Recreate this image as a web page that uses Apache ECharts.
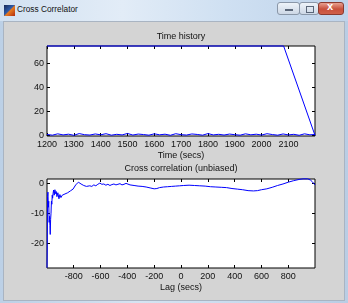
<!DOCTYPE html>
<html><head><meta charset="utf-8">
<script src="https://cdn.jsdelivr.net/npm/echarts@6/dist/echarts.min.js"></script>
<style>
html,body{margin:0;padding:0;width:348px;height:303px;overflow:hidden;background:#c8d8ea;}
#frame{position:absolute;left:0;top:0;width:348px;height:303px;background:linear-gradient(90deg,#bcd0e6,#d6e4f2 40%,#c9dbee 70%,#b9cde4);}
#titlebar{position:absolute;left:0;top:0;width:348px;height:21px;background:linear-gradient(90deg,#d2e1f1,#e2ecf7 35%,#cfe0f2 65%,#bfd3ea);}
#icon{position:absolute;left:4px;top:5px;width:11px;height:11px;background:linear-gradient(135deg,#1b2a55 0%,#2d5aa8 45%,#e87a1e 55%,#b02a10 100%);}
#ttext{position:absolute;left:17px;top:4px;font:8.3px "Liberation Sans",Arial,sans-serif;color:#111;white-space:nowrap;}
.btn{position:absolute;top:2px;height:13px;border:1px solid #8a97a8;border-radius:3px;background:linear-gradient(180deg,#eef3f9,#cdd8e6);box-sizing:border-box;}
#bmin{left:277px;width:23px;}
#bmax{left:299px;width:20px;}
#bclose{left:318px;width:26px;background:linear-gradient(180deg,#e8a090,#c8503c 55%,#d0604a);border-color:#8a3a30;}
#bmin:after{content:"";position:absolute;left:7px;top:6px;width:8px;height:2px;background:#5a6678;}
#bmax:after{content:"";position:absolute;left:6px;top:3px;width:6px;height:5px;border:1px solid #5a6678;}
#bclose:after{content:"x";position:absolute;left:8px;top:-3px;font:bold 11px "Liberation Sans",Arial;color:#fff;}
#client{position:absolute;left:3px;top:21px;width:342px;height:280px;background:#d4d4d4;border:1px solid #a9b4c2;box-sizing:border-box;}
#chart{position:absolute;left:0;top:0;width:348px;height:303px;}
</style></head>
<body>
<div id="frame"></div>
<div id="titlebar"><div id="icon"></div><div id="ttext">Cross Correlator</div>
<div class="btn" id="bmin"></div><div class="btn" id="bmax"></div><div class="btn" id="bclose"></div></div>
<div id="client"></div>
<div id="chart"></div>
<script>
// ---- Time history data ----
const timeStamps = [1200, 2082, 2199];
const timeStampValues = [74.4, 74.4, 0];
const noiseTimes = [1200,1220,1240,1260,1280,1300,1320,1340,1360,1380,1400,1420,1440,1460,1480,1500,1520,1540,1560,1580,1600,1620,1640,1660,1680,1700,1720,1740,1760,1780,1800,1820,1840,1860,1880,1900,1920,1940,1960,1980,2000,2020,2040,2060,2080,2100,2120,2140,2160,2180,2199];
const noiseValues = [0.8,0.2,1.3,0.4,1.0,0.1,1.5,0.6,0.3,1.2,0.5,1.4,0.2,0.9,0.4,1.6,0.3,1.1,0.7,0.2,1.3,0.5,1.0,0.1,1.4,0.6,0.3,1.2,0.8,0.2,1.5,0.4,0.9,0.3,1.1,0.6,0.2,1.3,0.5,1.0,0.3,1.4,0.7,0.2,1.2,0.4,0.9,0.1,1.3,0.5,0.8];
const timeTicks = [1200,1300,1400,1500,1600,1700,1800,1900,2000,2100];
const timeYTicks = [0,20,40,60];

// ---- Cross correlation data ----
const lags = [-999,-997,-995,-992,-989,-986,-983,-980,-977,-975,-972,-969,-966,-963,-960,-957,-954,-950,-945,-940,-935,-930,-925,-918,-910,-903,-895,-885,-875,-865,-855,-845,-835,-825,-815,-805,-795,-785,-775,-765,-755,-745,-735,-725,-715,-705,-695,-680,-665,-650,-635,-620,-605,-590,-575,-560,-545,-530,-515,-500,-485,-470,-455,-440,-425,-410,-400,-380,-350,-320,-290,-260,-230,-200,-180,-160,-130,-100,-70,-40,-10,20,60,100,140,180,220,260,300,340,380,420,460,500,540,570,600,640,680,720,760,800,840,880,910,945,965,980,999];
const xcorr = [-28,-20,-4.5,-3,-8,-6,-13,-11,-14,-17,-12,-10,-6,-7,-4,-5,-3.5,-2.3,-4,-2.2,-3.5,-2.8,-4.5,-3.2,-5.2,-3.8,-4.8,-4,-4.6,-3.6,-4,-3.2,-3.4,-2.6,-2.8,-2,-1.6,-0.6,-0.2,0.3,0.1,-0.3,-0.9,-0.8,-1.3,-1.1,-1.4,-0.9,-1.1,-0.6,-0.9,-0.4,0,-0.4,-0.3,-0.7,-0.4,-0.8,-0.5,-0.3,-0.6,-0.4,-0.2,-0.6,-0.4,-0.1,-0.4,-0.6,-0.8,-1.0,-1.1,-1.3,-1.6,-1.9,-1.8,-1.5,-1.3,-1.2,-1.1,-1.0,-0.9,-0.8,-0.7,-0.8,-0.9,-1.0,-1.2,-1.3,-1.4,-1.5,-1.8,-2.0,-2.2,-2.5,-2.6,-2.5,-2.2,-1.9,-1.4,-0.8,-0.3,0.3,0.8,1.2,1.4,1.4,1.0,0.4,-0.6];
const lagTicks = [-800,-600,-400,-200,0,200,400,600,800];
const xcorrYTicks = [-20,-10,0];

const FONT = '"Liberation Sans", Arial, sans-serif';
const BLUE = '#0000ff';
const zip = (a,b) => a.map((v,i)=>[v,b[i]]);
const plain = v => String(v);

function xAx(grid, min, max, ticks, pos, labels){
  return {type:'value', gridIndex:grid, min, max, position:pos, splitLine:{show:false},
    axisLine:{show:false, onZero:false},
    axisTick:{show:true, inside:true, length:3, lineStyle:{color:'#000'}, customValues:ticks},
    axisLabel:{show:labels, customValues:ticks, formatter:plain, margin:4, fontSize:9, fontFamily:FONT, color:'#111'}};
}
function yAx(grid, min, max, ticks, pos, labels){
  return {type:'value', gridIndex:grid, min, max, position:pos, splitLine:{show:false},
    axisLine:{show:false, onZero:false},
    axisTick:{show:true, inside:true, length:3, lineStyle:{color:'#000'}, customValues:ticks},
    axisLabel:{show:labels, customValues:ticks, formatter:plain, margin:3, fontSize:9, fontFamily:FONT, color:'#111'}};
}
function txt(x,y,s){
  return {type:'text', x, y, silent:true, style:{text:s, fill:'#111', font:'9px '+FONT,
    textAlign:'center', textVerticalAlign:'middle', align:'center', verticalAlign:'middle'}};
}

const chart = echarts.init(document.getElementById('chart'), null, {renderer:'canvas'});
chart.setOption({
  animation:false,
  backgroundColor:'transparent',
  grid:[
    {left:47, top:46, width:268, height:90, show:true, backgroundColor:'#fff', borderColor:'#000', borderWidth:1},
    {left:47, top:179, width:268, height:89, show:true, backgroundColor:'#fff', borderColor:'#000', borderWidth:1}
  ],
  xAxis:[
    xAx(0,1200,2199,timeTicks,'bottom',true),
    xAx(0,1200,2199,timeTicks,'top',false),
    xAx(1,-999,999,lagTicks,'bottom',true),
    xAx(1,-999,999,lagTicks,'top',false)
  ],
  yAxis:[
    yAx(0,-0.5,74.4,timeYTicks,'left',true),
    yAx(0,-0.5,74.4,timeYTicks,'right',false),
    yAx(1,-28.1,1.35,xcorrYTicks,'left',true),
    yAx(1,-28.1,1.35,xcorrYTicks,'right',false)
  ],
  series:[
    {type:'line', xAxisIndex:0, yAxisIndex:0, data:zip(noiseTimes,noiseValues), showSymbol:false, clip:false,
      lineStyle:{color:BLUE, width:1}},
    {type:'line', xAxisIndex:0, yAxisIndex:0, data:zip(timeStamps,timeStampValues), showSymbol:false, clip:false,
      lineStyle:{color:BLUE, width:1}},
    {type:'line', xAxisIndex:2, yAxisIndex:2, data:zip(lags,xcorr), showSymbol:false, clip:false,
      lineStyle:{color:BLUE, width:1}}
  ],
  graphic:[
    txt(181,37,'Time history'),
    txt(181,156,'Time (secs)'),
    txt(181,169,'Cross correlation (unbiased)'),
    txt(181,288,'Lag (secs)')
  ]
});
</script>
</body></html>
